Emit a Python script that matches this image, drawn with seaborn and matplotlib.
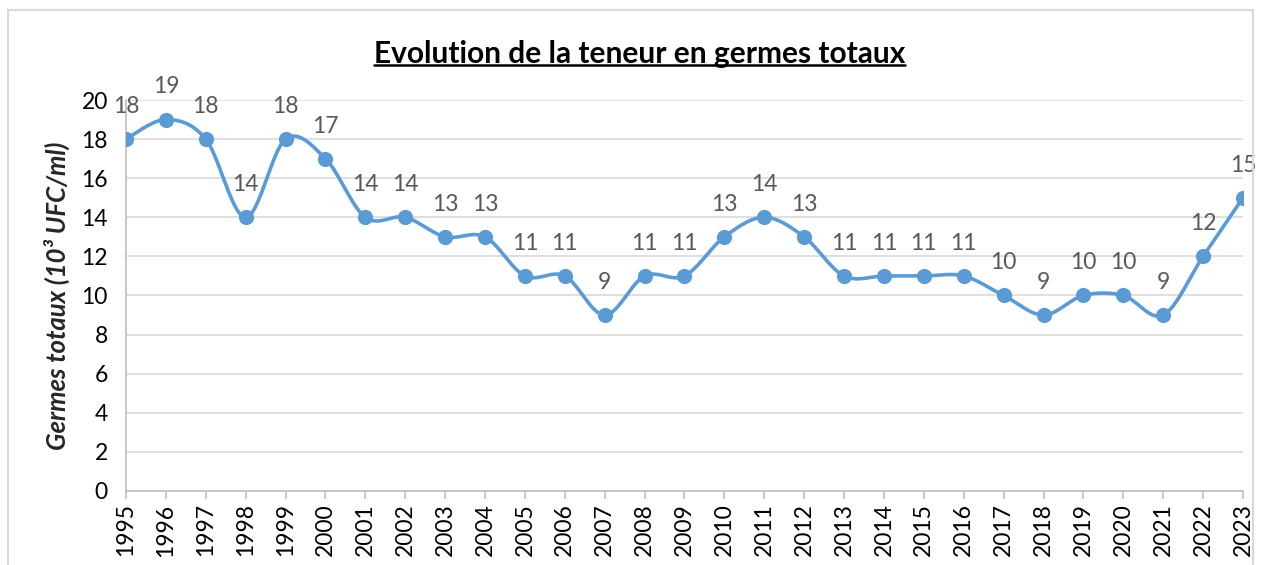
import numpy as np
import pandas as pd
import matplotlib
matplotlib.use("Agg")
import matplotlib.pyplot as plt
import seaborn as sns
from matplotlib.patches import Rectangle
from matplotlib.lines import Line2D

years = list(range(1995, 2024))
values = [18, 19, 18, 14, 18, 17, 14, 14, 13, 13, 11, 11, 9, 11, 11, 13, 14, 13,
          11, 11, 11, 11, 10, 9, 10, 10, 9, 12, 15]
title = "Evolution de la teneur en germes totaux"
ylabel = "Germes totaux (10³ UFC/ml)"

sns.set_theme(style="white")
plt.rcParams['font.family'] = ['Lato', 'DejaVu Sans']

line_color = "#5B9BD5"

def smooth(x, y, n=30):
    x = np.asarray(x, float); y = np.asarray(y, float)
    px = np.concatenate([[x[0]], x, [x[-1]]])
    py = np.concatenate([[y[0]], y, [y[-1]]])
    xs, ys = [], []
    t = np.linspace(0, 1, n, endpoint=False)
    for i in range(1, len(px) - 2):
        p0x, p1x, p2x, p3x = px[i-1], px[i], px[i+1], px[i+2]
        p0y, p1y, p2y, p3y = py[i-1], py[i], py[i+1], py[i+2]
        c1x = p1x + (p2x - p0x) / 6; c1y = p1y + (p2y - p0y) / 6
        c2x = p2x - (p3x - p1x) / 6; c2y = p2y - (p3y - p1y) / 6
        bx = (1-t)**3*p1x + 3*(1-t)**2*t*c1x + 3*(1-t)*t**2*c2x + t**3*p2x
        by = (1-t)**3*p1y + 3*(1-t)**2*t*c1y + 3*(1-t)*t**2*c2y + t**3*p2y
        xs.append(bx); ys.append(by)
    xs.append([x[-1]]); ys.append([y[-1]])
    return np.concatenate(xs), np.concatenate(ys)

df = pd.DataFrame({"year": years, "value": values})
sx, sy = smooth(years, values)
sdf = pd.DataFrame({"x": sx, "y": sy})

fig = plt.figure(figsize=(12.61, 5.65), dpi=100)
ax = fig.add_axes([0.0999, 0.131, 0.8858, 0.692])

sns.lineplot(data=sdf, x="x", y="y", ax=ax, color=line_color, linewidth=2.6,
             sort=False, estimator=None)
sns.scatterplot(data=df, x="year", y="value", ax=ax, color=line_color, s=120,
                edgecolor=line_color, linewidth=0, zorder=5)

for xv, yv in zip(years, values):
    ax.annotate(str(yv), (xv, yv), xytext=(0, 23.5), textcoords="offset points",
                ha="center", va="center", fontsize=16.5, color="#595959")

ax.set_xlim(1995, 2023)
ax.set_ylim(0, 20)
ax.set_yticks(range(0, 21, 2))
ax.set_xticks(years)
ax.set_xticklabels([str(y) for y in years], rotation=90, fontsize=16.5, color="#000000")
ax.tick_params(axis="y", labelsize=16.5, colors="#000000", length=0, pad=13)
ax.tick_params(axis="x", length=6, width=1.2, color="#BFBFBF", direction="out", pad=3,
               bottom=True)
ax.grid(axis="y", color="#D9D9D9", linewidth=1.2)
ax.set_axisbelow(True)
for side in ["top", "right"]:
    ax.spines[side].set_visible(False)
for side in ["left", "bottom"]:
    ax.spines[side].set_color("#BFBFBF")
    ax.spines[side].set_linewidth(1.2)
ax.set_xlabel("")
ax.set_ylabel(ylabel, fontsize=18.5, fontweight="bold", style="italic", labelpad=8)

t = fig.text(0.507, 0.905, title, ha="center", va="center", fontsize=21.5,
             fontweight="bold", color="#000000")
fig.canvas.draw()
bb = t.get_window_extent(renderer=fig.canvas.get_renderer())
inv = fig.transFigure.inverted()
(x0, y0), (x1, y1) = inv.transform([(bb.x0, bb.y0), (bb.x1, bb.y1)])
fig.add_artist(Line2D([x0, x1], [y0 + 0.004, y0 + 0.004], transform=fig.transFigure,
                      color="#000000", linewidth=1.8))

fig.add_artist(Rectangle((0.0063, -0.01), 0.9874, 0.993, transform=fig.transFigure,
                         fill=False, edgecolor="#D9D9D9", linewidth=1.5))

fig.savefig("out.png", dpi=100)
